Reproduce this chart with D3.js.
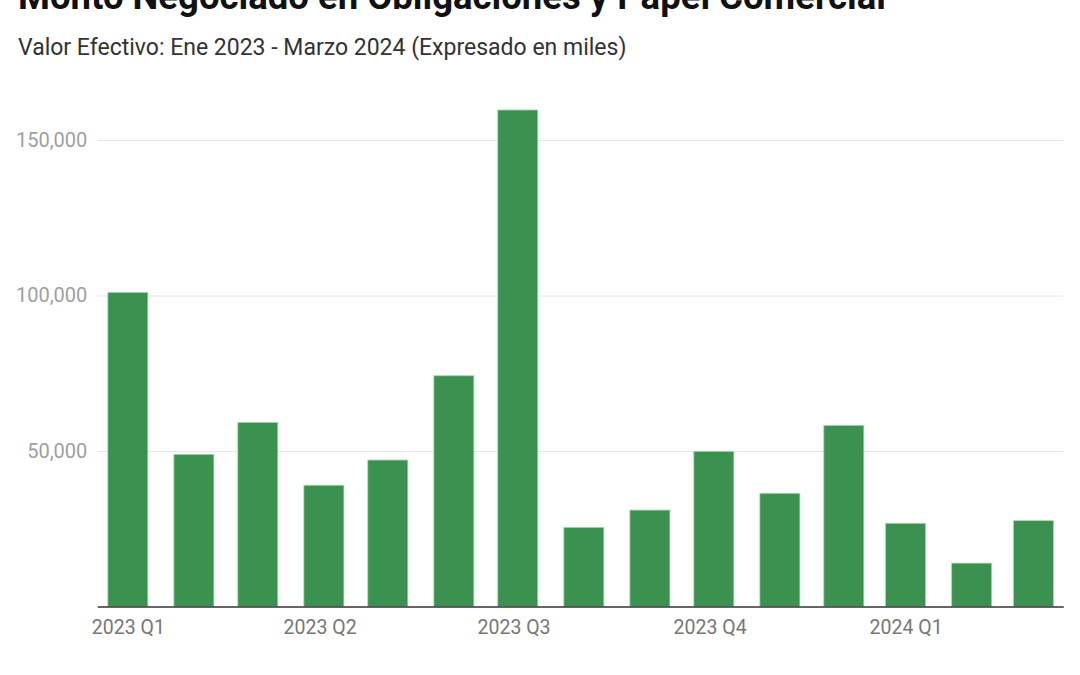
<!DOCTYPE html>
<html>
<head>
<meta charset="utf-8">
<script src="https://cdn.jsdelivr.net/npm/d3@7"></script>
<style>
  html, body { margin: 0; padding: 0; background: #fff; }
  svg { display: block; font-family: Roboto, "Noto Sans", sans-serif; }
</style>
</head>
<body>
<svg id="chart" width="1080" height="675"></svg>
<script>
const title = "Monto Negociado en Obligaciones y Papel Comercial";
const subtitle = "Valor Efectivo: Ene 2023 - Marzo 2024 (Expresado en miles)";
const dates = ["2023-01-01","2023-02-01","2023-03-03","2023-04-03","2023-05-03","2023-06-03","2023-07-03","2023-08-03","2023-09-03","2023-10-03","2023-11-03","2023-12-03","2024-01-01","2024-02-01","2024-03-01"];
const values = [101000, 48900, 59200, 39000, 47100, 74200, 159650, 25450, 31000, 49900, 36400, 58250, 26750, 13950, 27600];
const yTicks = [50000, 100000, 150000];
const xTickDates = ["2023-01-01","2023-04-01","2023-07-01","2023-10-01","2024-01-01"];
const xTickLabels = ["2023 Q1","2023 Q2","2023 Q3","2023 Q4","2024 Q1"];
const xDomain = ["2022-12-17T16:00:00Z", "2024-03-15T00:00:00Z"];

const svg = d3.select("#chart");
const parse = s => d3.isoParse(s.length === 10 ? s + "T00:00:00Z" : s);

const x = d3.scaleUtc()
  .domain(xDomain.map(parse))
  .range([97.3, 1063.3]);
const y = d3.scaleLinear()
  .domain([0, 150000])
  .range([606.5, 140]);
const barW = 40;

svg.append("text")
  .attr("x", 18).attr("y", 9)
  .attr("font-size", 36.5).attr("font-weight", 700).attr("fill", "#111")
  .text(title);

svg.append("text")
  .attr("x", 18).attr("y", 55)
  .attr("font-size", 23).attr("fill", "#333")
  .text(subtitle);

// gridlines + y labels
const yAxis = d3.axisLeft(y).tickValues(yTicks).tickSize(-(1063.3 - 97.3)).tickPadding(10)
  .tickFormat(d3.format(","));
const gy = svg.append("g").attr("transform", "translate(97.3,0)").call(yAxis);
gy.select(".domain").remove();
gy.selectAll(".tick line").attr("stroke", "#e6e6e6").attr("stroke-width", 1);
gy.selectAll(".tick text").attr("fill", "#a0a0a0").attr("font-size", 20)
  .attr("font-family", "Roboto, sans-serif");

// bars
svg.append("g").selectAll("rect")
  .data(dates.map((m, i) => ({ d: parse(m), v: values[i] })))
  .join("rect")
  .attr("x", d => x(d.d) - barW / 2)
  .attr("y", d => y(d.v))
  .attr("width", barW)
  .attr("height", d => y(0) - y(d.v))
  .attr("fill", "#3a9150")
  .attr("stroke", "#a8d5b0")
  .attr("stroke-width", 0.8);

// x axis
const xAxis = d3.axisBottom(x)
  .tickValues(xTickDates.map(parse))
  .tickSize(0).tickPadding(14)
  .tickFormat((d, i) => xTickLabels[i]);
const gx = svg.append("g").attr("transform", `translate(0,${y(0)})`).call(xAxis);
gx.select(".domain").attr("stroke", "#333").attr("stroke-width", 1.6);
gx.selectAll(".tick text").attr("fill", "#777").attr("font-size", 19.5)
  .attr("font-family", "Roboto, sans-serif");
</script>
</body>
</html>
